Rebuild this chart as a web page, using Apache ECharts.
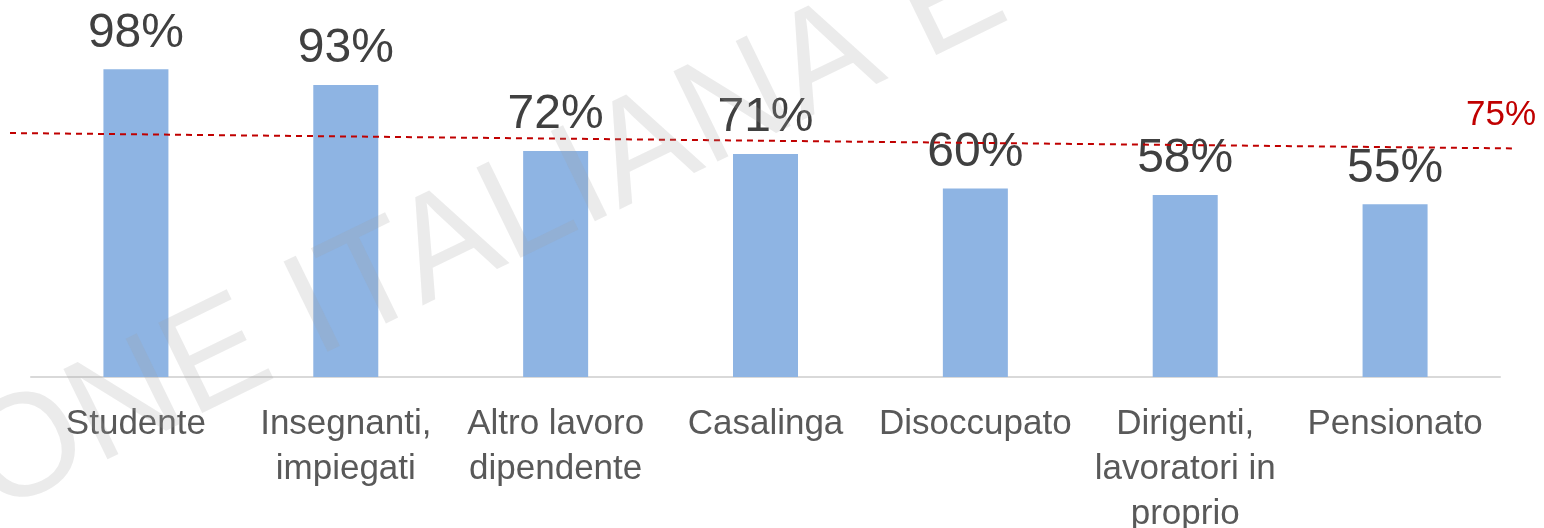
<!DOCTYPE html>
<html>
<head>
<meta charset="utf-8">
<script src="https://cdn.jsdelivr.net/npm/echarts@6/dist/echarts.min.js"></script>
<style>
  html, body { margin: 0; padding: 0; background: #fff; }
  #chart { width: 1544px; height: 528px; }
</style>
</head>
<body>
<div id="chart"></div>
<script>
// categorie (con gli a capo come nel grafico originale)
const categories = [
  'Studente',
  'Insegnanti,\nimpiegati',
  'Altro lavoro\ndipendente',
  'Casalinga',
  'Disoccupato',
  'Dirigenti,\nlavoratori in\nproprio',
  'Pensionato'
];
const values = [98, 93, 72, 71, 60, 58, 55];

// linea di riferimento (tratteggiata, leggermente inclinata nell'originale)
const threshold = 75;
const thresholdX = [0, 1];
const thresholdY = [77.7, 72.8];

const font = '"Liberation Sans", Arial, sans-serif';

var myChart = echarts.init(document.getElementById('chart'));

const lineData = thresholdX.map(function (x, i) {
  if (i === thresholdX.length - 1) {
    return {
      value: [x, thresholdY[i]],
      label: {
        show: true,
        position: 'top',
        distance: 16,
        offset: [-13, 0],
        formatter: threshold + '%',
        fontSize: 35,
        fontFamily: font,
        color: '#c00000'
      }
    };
  }
  return { value: [x, thresholdY[i]] };
});

const option = {
  backgroundColor: '#ffffff',
  animation: false,
  grid: [
    { left: 31, right: 44, top: 63, bottom: 151, outerBoundsMode: 'none' },
    // griglia per la linea tratteggiata, più larga dell'asse
    { left: 10, right: 30, top: 63, bottom: 151, outerBoundsMode: 'none' }
  ],
  xAxis: [
    {
      type: 'category',
      data: categories,
      axisLine: { lineStyle: { color: '#d9d9d9', width: 2 } },
      axisTick: { show: false },
      axisLabel: {
        interval: 0,
        margin: 25,
        fontSize: 35,
        lineHeight: 45,
        fontFamily: font,
        color: '#595959'
      }
    },
    { type: 'value', gridIndex: 1, min: 0, max: 1, show: false }
  ],
  yAxis: [
    { type: 'value', min: 0, max: 100, show: false },
    { type: 'value', gridIndex: 1, min: 0, max: 100, show: false }
  ],
  series: [
    {
      type: 'bar',
      data: values,
      barWidth: 65,
      itemStyle: { color: '#8eb4e3' },
      label: {
        show: true,
        position: 'top',
        distance: 12,
        formatter: '{c}%',
        fontSize: 48,
        fontFamily: font,
        color: '#404040'
      }
    },
    {
      type: 'line',
      xAxisIndex: 1,
      yAxisIndex: 1,
      data: lineData,
      clip: false,
      symbol: 'circle',
      symbolSize: 0,
      lineStyle: { color: '#c00000', width: 2, type: [6, 5] },
      z: 5
    }
  ],
  // filigrana
  graphic: [
    {
      type: 'text',
      x: -23,
      y: 478,
      rotation: 26 * Math.PI / 180,
      z: 100,
      silent: true,
      style: {
        text: 'ONE ITALIANA E',
        fontSize: 146,
        fontFamily: font,
        fill: 'rgba(160,160,160,0.21)',
        align: 'left',
        verticalAlign: 'middle'
      }
    }
  ]
};

myChart.setOption(option);
</script>
</body>
</html>
